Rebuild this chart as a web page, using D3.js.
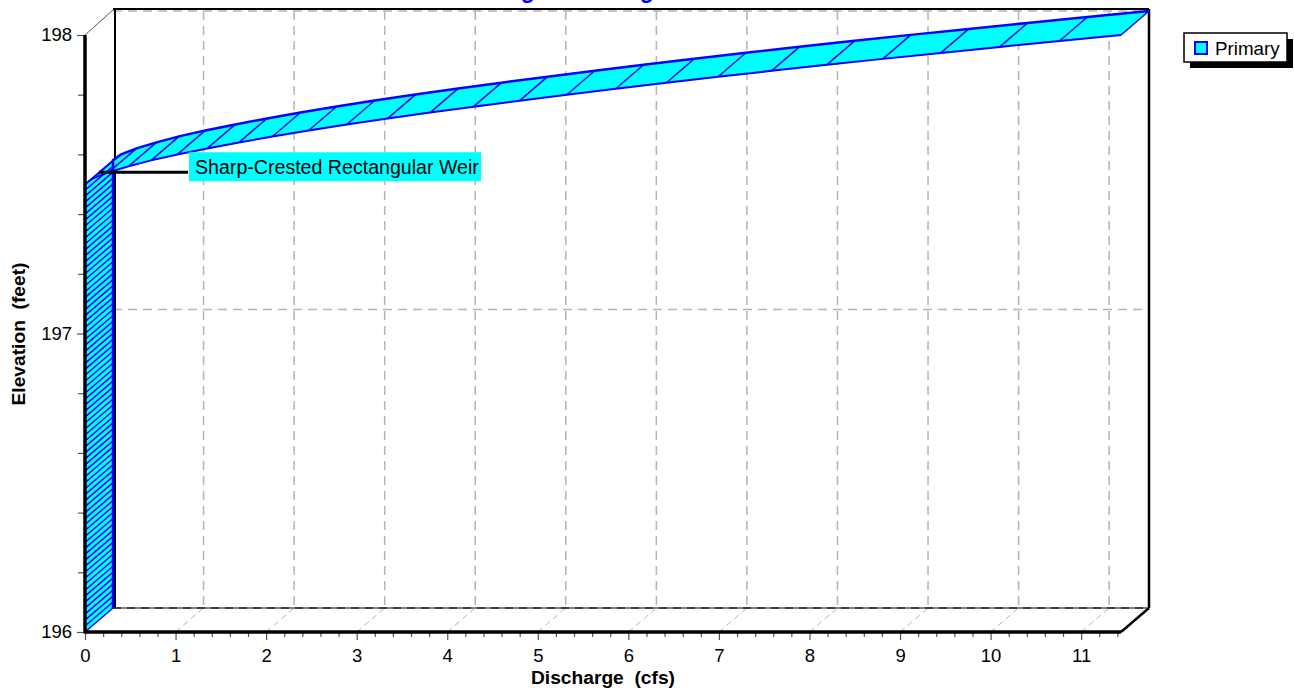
<!DOCTYPE html>
<html><head><meta charset="utf-8">
<script src="https://cdn.jsdelivr.net/npm/d3@7"></script>
<style>
html,body{margin:0;padding:0;background:#fff;overflow:hidden;}
svg{display:block;font-family:"Liberation Sans",Arial,sans-serif;}
</style></head><body>
<svg id="chart" width="1294" height="690"></svg>
<script>
// ---- data (stage-discharge table) ----
const elevation = [
196.00,196.02,196.04,196.06,196.08,196.10,196.12,196.14,196.16,196.18,
196.20,196.22,196.24,196.26,196.28,196.30,196.32,196.34,196.36,196.38,
196.40,196.42,196.44,196.46,196.48,196.50,196.52,196.54,196.56,196.58,
196.60,196.62,196.64,196.66,196.68,196.70,196.72,196.74,196.76,196.78,
196.80,196.82,196.84,196.86,196.88,196.90,196.92,196.94,196.96,196.98,
197.00,197.02,197.04,197.06,197.08,197.10,197.12,197.14,197.16,197.18,
197.20,197.22,197.24,197.26,197.28,197.30,197.32,197.34,197.36,197.38,
197.40,197.42,197.44,197.46,197.48,197.50,197.52,197.54,197.56,197.58,
197.60,197.62,197.64,197.66,197.68,197.70,197.72,197.74,197.76,197.78,
197.80,197.82,197.84,197.86,197.88,197.90,197.92,197.94,197.96,197.98,
198.00];
const discharge = [
0,0,0,0,0,0,0,0,0,0,
0,0,0,0,0,0,0,0,0,0,
0,0,0,0,0,0,0,0,0,0,
0,0,0,0,0,0,0,0,0,0,
0,0,0,0,0,0,0,0,0,0,
0,0,0,0,0,0,0,0,0,0,
0,0,0,0,0,0,0,0,0,0,
0,0,0,0,0,0,0.09,0.26,0.48,0.73,
1.02,1.35,1.70,2.07,2.47,2.89,3.34,3.81,4.29,4.80,
5.32,5.86,6.42,6.99,7.58,8.19,8.81,9.45,10.10,10.76,
11.44];
const xTickValues = [0,1,2,3,4,5,6,7,8,9,10,11];
const yTickValues = [196,197,198];
const yMinorValues = [196.2,196.4,196.6,196.8,197.2,197.4,197.6,197.8];
const xMinorValues = [];
for (let i = 0; i <= 57; i++) { const v = +(i*0.2).toFixed(1); if (v <= 11.44 && Math.abs(v-Math.round(v))>1e-9) xMinorValues.push(v); }
const seriesName = "Primary";
const annotationText = "Sharp-Crested Rectangular Weir";
const chartTitle = "Stage-Discharge";
const xTitle = "Discharge  (cfs)";
const yTitle = "Elevation  (feet)";

// ---- layout ----
const svg = d3.select("#chart");
const x = d3.scaleLinear().domain([0, d3.max(discharge)]).range([85, 1121]);
const y = d3.scaleLinear().domain([196, 198]).range([632, 35]);
const DX = 28, DY = -24;
const CYAN = "#00FFFF", BLUE = "#0000FF", GRID = "#b4b4b4";
const x0 = x.range()[0], x1 = x.range()[1];
const yb = y(196), yt = y(198);

// title (mostly clipped above the window, as in the reference)
svg.append("text").attr("x", 485).attr("y", -2)
  .attr("font-size", 23).attr("font-weight", "bold").attr("fill", BLUE).text(chartTitle);

// back wall grid
const g = svg.append("g");
xTickValues.filter(d => d > 0).forEach(d => {
  g.append("line").attr("x1", x(d)+DX).attr("x2", x(d)+DX).attr("y1", yt+DY).attr("y2", yb+DY)
    .attr("stroke", GRID).attr("stroke-width", 1.5).attr("stroke-dasharray", "9,6");
  g.append("line").attr("x1", x(d)).attr("x2", x(d)+DX).attr("y1", yb).attr("y2", yb+DY)
    .attr("stroke", GRID).attr("stroke-width", 1).attr("stroke-dasharray", "6,4");
});
[197, 198].forEach(d => {
  g.append("line").attr("x1", x0+DX).attr("x2", x1+DX).attr("y1", y(d)+DY).attr("y2", y(d)+DY)
    .attr("stroke", GRID).attr("stroke-width", 1.5).attr("stroke-dasharray", "9,6");
});
// back bottom edge
g.append("line").attr("x1", x0+DX).attr("x2", x1+DX).attr("y1", yb+DY).attr("y2", yb+DY)
  .attr("stroke", "#808080").attr("stroke-width", 2);
g.append("line").attr("x1", x0+DX).attr("x2", x1+DX).attr("y1", yb+DY).attr("y2", yb+DY)
  .attr("stroke", "#000").attr("stroke-width", 1).attr("stroke-dasharray", "8,6");
// frame
g.append("line").attr("x1", x0+DX+2).attr("x2", x0+DX+2).attr("y1", yt+DY-2).attr("y2", yb+DY)
  .attr("stroke", "#000").attr("stroke-width", 2);
g.append("line").attr("x1", x0+DX).attr("x2", x1+DX).attr("y1", yt+DY-2).attr("y2", yt+DY-2)
  .attr("stroke", "#000").attr("stroke-width", 2);
g.append("line").attr("x1", x1+DX).attr("x2", x1+DX).attr("y1", yt+DY-2).attr("y2", yb+DY)
  .attr("stroke", "#000").attr("stroke-width", 2.5);
g.append("line").attr("x1", x0).attr("x2", x0+DX).attr("y1", yt).attr("y2", yt+DY-1)
  .attr("stroke", "#555").attr("stroke-width", 1);
g.append("line").attr("x1", x1).attr("x2", x1+DX).attr("y1", yb).attr("y2", yb+DY)
  .attr("stroke", "#000").attr("stroke-width", 2.5);

// ---- ribbon series ----
const pts = elevation.map((e, i) => ({ q: discharge[i], e }));
const F = p => [x(p.q), y(p.e)];
const B = p => [x(p.q)+DX, y(p.e)+DY];
const rib = svg.append("g");
for (let i = 0; i < pts.length-1; i++) {
  const poly = [F(pts[i]), F(pts[i+1]), B(pts[i+1]), B(pts[i])];
  rib.append("polygon").attr("points", poly.map(p => p.join(",")).join(" "))
    .attr("fill", CYAN).attr("stroke", CYAN).attr("stroke-width", 0.6);
}
pts.forEach(p => {
  const a = F(p), b = B(p);
  rib.append("line").attr("x1", a[0]).attr("y1", a[1]).attr("x2", b[0]).attr("y2", b[1])
    .attr("stroke", BLUE).attr("stroke-width", 1.5);
});
const line = d3.line();
rib.append("path").attr("d", line(pts.map(F))).attr("fill", "none").attr("stroke", BLUE).attr("stroke-width", 2);
rib.append("path").attr("d", line(pts.map(B))).attr("fill", "none").attr("stroke", BLUE).attr("stroke-width", 2.5);

// ---- front axes ----
const axG = svg.append("g");
axG.append("g").attr("transform", `translate(${x0},0)`)
  .call(d3.axisLeft(y).tickValues(yMinorValues).tickSize(7).tickFormat(""));
axG.append("g").attr("transform", `translate(${x0},0)`)
  .call(d3.axisLeft(y).tickValues(yTickValues).tickSize(8).tickPadding(5).tickFormat(d3.format("d")));
axG.append("g").attr("transform", `translate(0,${yb})`)
  .call(d3.axisBottom(x).tickValues(xMinorValues).tickSize(5).tickFormat(""));
axG.append("g").attr("transform", `translate(0,${yb})`)
  .call(d3.axisBottom(x).tickValues(xTickValues).tickSize(8).tickPadding(9).tickFormat(d3.format("d")));
axG.selectAll(".domain").remove();
axG.selectAll(".tick line").attr("stroke", "#555").attr("stroke-width", 1.2);
axG.selectAll(".tick text").attr("font-size", 18.5).attr("fill", "#000")
  .attr("font-family", '"Liberation Sans",Arial,sans-serif');
// axis lines
axG.append("line").attr("x1", x0).attr("x2", x0).attr("y1", yt).attr("y2", yb+1.5)
  .attr("stroke", "#000").attr("stroke-width", 3.5);
axG.append("line").attr("x1", x0).attr("x2", x1).attr("y1", yb).attr("y2", yb)
  .attr("stroke", "#000").attr("stroke-width", 3.5);

// ---- annotation ----
const ann = pts.find(p => p.q > 0);
const anchorPt = pts[pts.indexOf(ann)-1];
const ax = x(anchorPt.q) + DX/2, ay = y(anchorPt.e) + DY/2;
svg.append("line").attr("x1", ax).attr("y1", ay).attr("x2", ax+89).attr("y2", ay)
  .attr("stroke", "#000").attr("stroke-width", 3);
svg.append("rect").attr("x", ax+90).attr("y", ay-20).attr("width", 292).attr("height", 29).attr("fill", CYAN);
svg.append("text").attr("x", ax+96).attr("y", ay+2).attr("font-size", 19.6).attr("fill", "#000").text(annotationText);

// ---- axis titles ----
svg.append("text").attr("x", 603).attr("y", 684).attr("text-anchor", "middle")
  .attr("font-size", 19.2).attr("font-weight", "bold").style("white-space", "pre").text(xTitle);
svg.append("text").attr("transform", "translate(25,334) rotate(-90)").attr("text-anchor", "middle")
  .attr("font-size", 19.2).attr("font-weight", "bold").style("white-space", "pre").text(yTitle);

// ---- legend ----
const lg = svg.append("g");
lg.append("rect").attr("x", 1190).attr("y", 39).attr("width", 103).attr("height", 29).attr("fill", "#000");
lg.append("rect").attr("x", 1184).attr("y", 33).attr("width", 103).attr("height", 29)
  .attr("fill", "#fff").attr("stroke", "#000").attr("stroke-width", 1.5);
lg.append("rect").attr("x", 1195).attr("y", 42).attr("width", 12).attr("height", 12)
  .attr("fill", CYAN).attr("stroke", BLUE).attr("stroke-width", 2);
lg.append("text").attr("x", 1215).attr("y", 55).attr("font-size", 18.8).attr("fill", "#000").text(seriesName);
</script>
</body></html>
